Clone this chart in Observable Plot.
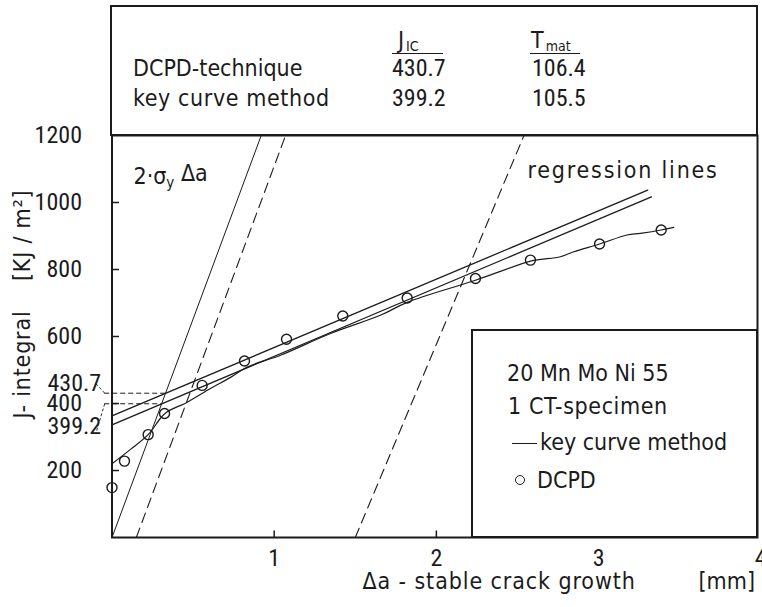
<!DOCTYPE html>
<html>
<head>
<meta charset="utf-8">
<script src="https://cdn.jsdelivr.net/npm/d3@7"></script>
<script src="https://cdn.jsdelivr.net/npm/@observablehq/plot@0.6"></script>
<style>
  body { margin: 0; background: #fff; }
  #wrap { position: relative; width: 762px; height: 607px; overflow: hidden; color: #1b1b1b;
          font-family: "DejaVu Sans Condensed", "DejaVu Sans", sans-serif; }
  .box { position: absolute; border: 2px solid #1b1b1b; box-sizing: border-box; }
  .t { position: absolute; white-space: pre; font-size: 23px; line-height: 23px; }
  .num { font-family: Roboto, "DejaVu Sans Condensed", sans-serif; font-stretch: 75%; font-size: 24px; }
  .rule { position: absolute; border-top: 1.5px solid #1b1b1b; height: 0; }
  sub { font-size: 14px; vertical-align: -3px; line-height: 0; margin-left: 2px; }
</style>
</head>
<body>
<div id="wrap"></div>
<script>
// J-R curve of 20 Mn Mo Ni 55, 1 CT specimen: DCPD points, key curve record,
// blunting / exclusion lines and the two regression lines.

// DCPD measurements: stable crack growth Δa [mm] and J [kJ/m²]
const dcpdDa = [0, 0.077, 0.223, 0.324, 0.556, 0.817, 1.076, 1.423, 1.82, 2.241, 2.58, 3.006, 3.386];
const dcpdJ  = [149, 228, 307, 370, 454, 527, 592, 661, 715, 773, 828, 876, 918];

// key curve record
const keyDa = [0, 0.114, 0.223, 0.299, 0.336, 0.464, 0.607, 0.731, 0.834, 1.039, 1.347, 1.658, 1.82, 2.241, 2.58, 2.642, 2.765, 2.847, 3.006, 3.176, 3.258, 3.386, 3.464];
const keyJ  = [220, 263, 307, 356, 374, 404, 445, 478, 509, 544, 609, 664, 702, 768, 825, 830, 838, 853, 876, 903, 908, 918, 926];

// regression lines (end points)
const regDcpdDa = [0, 3.303];
const regDcpdJ  = [363, 1037];
const regKeyDa  = [0, 3.326];
const regKeyJ   = [336, 1017];

// blunting line 2·σy·Δa and the 0.15 mm / 1.5 mm exclusion lines
const bluntDa = [0, 0.92];
const bluntJ  = [0, 1200];
const excl1Da = [0.15, 1.07];
const excl2Da = [1.5, 2.54];
const exclJ   = [0, 1200];

// result table
const methods = ["DCPD-technique", "key curve method"];
const jicValues = [430.7, 399.2];
const tmatValues = [106.4, 105.5];

// axis ticks
const yTicks = [200, 400, 600, 800, 1000, 1200];
const xTicks = [1, 2, 3, 4];

const ink = "#1b1b1b";
const numFont = 'Roboto, "DejaVu Sans Condensed", sans-serif';
const wordFont = '"DejaVu Sans Condensed", "DejaVu Sans", sans-serif';

const rows = (xs, ys) => xs.map((a, i) => ({a, J: ys[i]}));
const bluntSlope = bluntJ[1] / bluntDa[1];
const jicRows = jicValues.map((J, i) => ({J, a: J / bluntSlope, i}));

// inward tick glyphs
const tickRight = {draw(c) { c.moveTo(0, 0); c.lineTo(7, 0); }};
const tickUp = {draw(c) { c.moveTo(0, 0); c.lineTo(0, -7); }};

// leader lines from the J_IC labels to the axis (Δa units, left of the axis)
const leaderIn = -0.045, leaderOut = -0.1;
const leaderReach = [29, -89];

const lineOpts = {x: "a", y: "J", stroke: ink};
const numText = {fontFamily: numFont, fontSize: 24, fill: ink};
const wordText = {fill: ink, lineAnchor: "middle"};

const chart = Plot.plot({
  width: 762,
  height: 607,
  marginLeft: 111.5,
  marginRight: 5,
  marginTop: 135,
  marginBottom: 70,
  x: {domain: [0, 3.98], axis: null},
  y: {domain: [0, 1200], axis: null},
  style: {fontFamily: wordFont, fontSize: "23px", color: ink, background: "white", overflow: "visible"},
  marks: [
    Plot.frame({stroke: ink, strokeWidth: 2}),
    Plot.line(rows(bluntDa, bluntJ), {...lineOpts, strokeWidth: 1}),
    Plot.line(rows(excl1Da, exclJ), {...lineOpts, strokeWidth: 1.1, strokeDasharray: "10,6"}),
    Plot.line(rows(excl2Da, exclJ), {...lineOpts, strokeWidth: 1.1, strokeDasharray: "10,6"}),
    Plot.line(rows(regDcpdDa, regDcpdJ), {...lineOpts, strokeWidth: 1.3}),
    Plot.line(rows(regKeyDa, regKeyJ), {...lineOpts, strokeWidth: 1.3}),
    Plot.line(rows(keyDa, keyJ), {...lineOpts, strokeWidth: 1.2, curve: "catmull-rom"}),
    Plot.dot(rows(dcpdDa, dcpdJ), {x: "a", y: "J", r: 5, stroke: ink, fill: "none", strokeWidth: 1.4}),
    // J_IC read-off lines
    Plot.ruleY(jicRows, {y: "J", x1: leaderIn, x2: "a", stroke: ink, strokeWidth: 1, strokeDasharray: "5,3"}),
    Plot.link(jicRows, {x1: leaderIn, y1: "J", x2: leaderOut, y2: d => d.J + leaderReach[d.i], stroke: ink, strokeWidth: 0.9, strokeDasharray: "3,2"}),
    // ticks
    Plot.dot(yTicks.filter(t => t < 1200), {x: 0, y: d => d, symbol: tickRight, stroke: ink, fill: "none", strokeWidth: 1.5}),
    Plot.dot(xTicks.filter(t => t < 4), {x: d => d, y: 0, symbol: tickUp, stroke: ink, fill: "none", strokeWidth: 1.5}),
    // tick labels
    Plot.text(yTicks, {x: 0, y: d => d, text: d => `${d}`, textAnchor: "end", dx: -30, ...numText}),
    Plot.text([jicRows[0]], {x: 0, y: "J", text: d => d.J.toFixed(1), textAnchor: "start", dx: -64.5, dy: -9.5, ...numText}),
    Plot.text([jicRows[1]], {x: 0, y: "J", text: d => d.J.toFixed(1), textAnchor: "start", dx: -64.5, dy: 23, ...numText}),
    Plot.text(xTicks, {x: d => d, y: 0, dy: 21, text: d => `${d}`, ...numText}),
    // axis titles
    Plot.text(["J- integral\u00a0\u00a0\u00a0\u00a0[KJ / m²]"], {frameAnchor: "left", textAnchor: "middle", rotate: -90, dx: -89.5, dy: -32.5, ...wordText}),
    Plot.text(["Δa - stable crack growth"], {frameAnchor: "bottom-left", textAnchor: "start", dx: 250.5, dy: 44, ...wordText}),
    Plot.text(["[mm]"], {frameAnchor: "bottom-left", textAnchor: "start", dx: 586.5, dy: 44, ...wordText}),
    // annotations
    Plot.text(["2·σy Δa"], {frameAnchor: "top-left", textAnchor: "start", dx: 21.5, dy: 41, ...wordText}),
    Plot.text(["regression lines"], {frameAnchor: "top-left", textAnchor: "start", dx: 415.5, dy: 35.6, ...wordText})
  ]
});

const texts = d3.select(chart).selectAll("text");
// condensed numerals
texts.filter(function() { return /^[\d.]+$/.test(this.textContent); }).style("font-stretch", "75%");
// lettering spacing
const spacing = {"regression lines": 1.8, "Δa - stable crack growth": 0.9, "J- integral\u00a0\u00a0\u00a0\u00a0[KJ / m²]": 0.8};
texts.filter(function() { return this.textContent in spacing; })
  .style("letter-spacing", function() { return spacing[this.textContent] + "px"; });
// subscript y of σ
texts.filter(function() { return this.textContent === "2·σy Δa"; })
  .each(function() {
    const t = d3.select(this).text(null);
    t.append("tspan").text("2·σ");
    t.append("tspan").attr("dy", "0.3em").attr("font-size", 15).text("y");
    t.append("tspan").attr("dy", "-0.3em").text(" Δa");
  });

const wrap = document.getElementById("wrap");
wrap.appendChild(chart);

function el(cls, style, html) {
  const d = document.createElement("div");
  d.className = cls;
  Object.assign(d.style, style);
  if (html != null) d.innerHTML = html;
  wrap.appendChild(d);
  return d;
}

// result table above the plot
el("box", {left: "110px", top: "5px", width: "648px", height: "131px"});
el("t", {left: "398px", top: "29px"}, "J<sub>IC</sub>");
el("t", {left: "531px", top: "29px"}, "T<sub>mat</sub>");
el("rule", {left: "392px", top: "53px", width: "51px"});
el("rule", {left: "530px", top: "53px", width: "50px"});
methods.forEach((m, i) => {
  const top = 57 + i * 30;
  el("t", {left: "133px", top: top + "px", letterSpacing: i ? "0.6px" : "0"}, m);
  el("t num", {left: "392px", top: top + "px"}, jicValues[i].toFixed(1));
  el("t num", {left: "532px", top: top + "px"}, tmatValues[i].toFixed(1));
});

// legend box
el("box", {left: "471px", top: "329px", width: "287px", height: "209px", background: "#fff"});
el("t", {left: "507px", top: "362px"}, "20 Mn Mo Ni 55");
el("t", {left: "508px", top: "395px", letterSpacing: "0.6px"}, "1 CT-specimen");
el("rule", {left: "512px", top: "443px", width: "25px"});
el("t", {left: "540px", top: "431px"}, "key curve method");
el("", {position: "absolute", left: "515px", top: "475px", width: "8px", height: "8px", border: "1.5px solid #1b1b1b", borderRadius: "50%"});
el("t", {left: "537px", top: "469px"}, "DCPD");
</script>
</body>
</html>
